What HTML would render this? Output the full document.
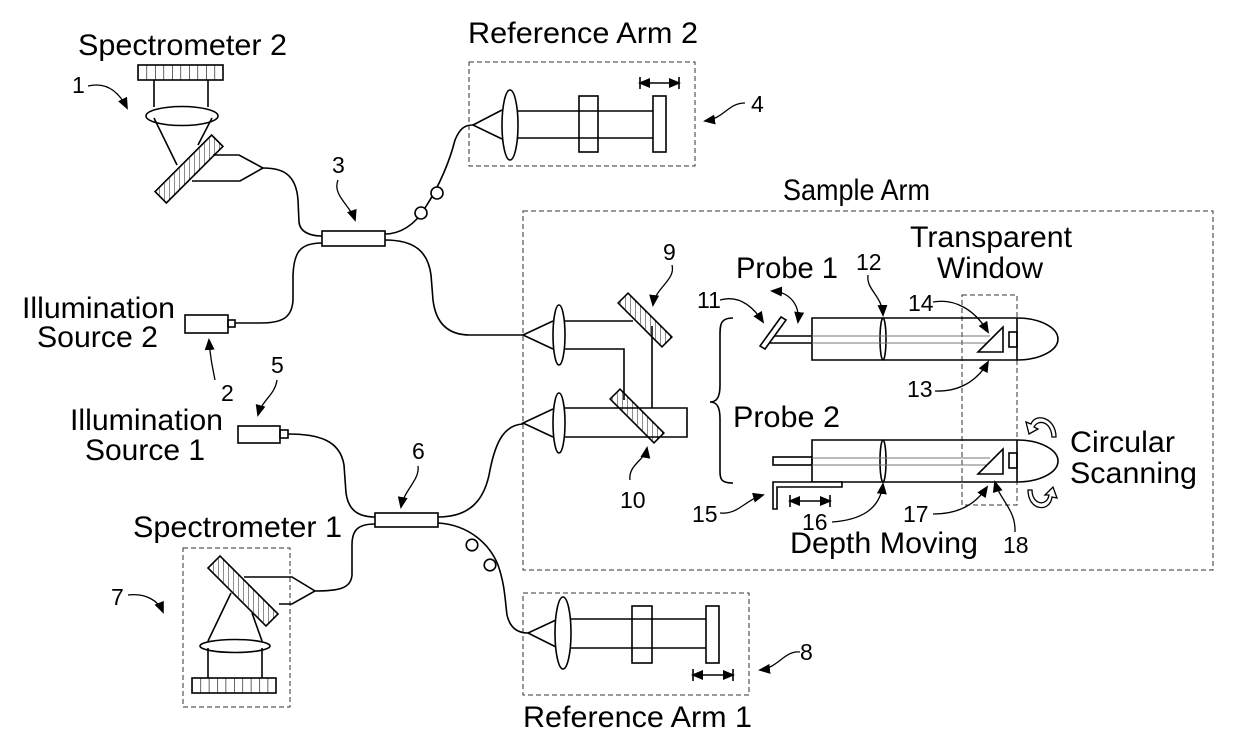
<!DOCTYPE html>
<html><head><meta charset="utf-8"><style>html,body{margin:0;padding:0;background:#fff}svg{display:block}</style></head>
<body>
<svg width="1239" height="751" viewBox="0 0 1239 751" xmlns="http://www.w3.org/2000/svg" font-family="Liberation Sans, Arial, sans-serif" fill="none" stroke="#000" stroke-width="1.6">
<defs>
<marker id="ah" markerWidth="12" markerHeight="10" refX="10" refY="5" orient="auto" markerUnits="userSpaceOnUse"><path d="M0,0 L12,5 L0,10 Z" fill="#000" stroke="none"/></marker>
<marker id="as" markerWidth="12" markerHeight="10" refX="2" refY="5" orient="auto" markerUnits="userSpaceOnUse"><path d="M12,0 L0,5 L12,10 Z" fill="#000" stroke="none"/></marker>
<pattern id="hA" width="5" height="5" patternUnits="userSpaceOnUse" patternTransform="rotate(-45)"><line x1="0" y1="0" x2="0" y2="5" stroke="#000" stroke-width="0.9"/></pattern>
<pattern id="hB" width="5" height="5" patternUnits="userSpaceOnUse" patternTransform="rotate(45)"><line x1="0" y1="0" x2="0" y2="5" stroke="#000" stroke-width="0.9"/></pattern>
<pattern id="gr" x="138" width="8.5" height="20" patternUnits="userSpaceOnUse"><line x1="0" y1="0" x2="0" y2="20" stroke="#000" stroke-width="1.2"/></pattern>
<pattern id="gr1" x="192" width="8.4" height="20" patternUnits="userSpaceOnUse"><line x1="0" y1="0" x2="0" y2="20" stroke="#000" stroke-width="1.2"/></pattern>
</defs>

<g stroke="#333" stroke-width="1" stroke-dasharray="5,3">
<rect x="469" y="62" width="226" height="104"/>
<rect x="523" y="211" width="690" height="359"/>
<rect x="523" y="593" width="226" height="102"/>
<rect x="183" y="548" width="107" height="159"/>
<rect x="962" y="295" width="55" height="210"/>
</g>

<rect x="138" y="65" width="85" height="15" fill="url(#gr)"/>
<line x1="154" y1="80" x2="154" y2="107"/><line x1="208" y1="80" x2="208" y2="107"/>
<ellipse cx="182" cy="116" rx="36" ry="9.5"/>
<line x1="154" y1="118" x2="177" y2="165"/><line x1="212" y1="118" x2="198" y2="145"/>
<path d="M192,181 L240,181 L263,168 L239,155 L213,155"/>
<rect x="-40" y="-8" width="80" height="16" transform="translate(189,169) rotate(-45)" fill="url(#hB)"/>
<path d="M263,168 C280,168 296,172 298,200 L299,222 C300,232 310,236 322,236"/>

<rect x="322" y="231" width="63" height="15"/>
<path d="M322,243 C300,243 294,252 293,275 L293,300 C292,318 282,323 260,323 L235,323"/>
<rect x="185" y="315" width="43" height="18"/><rect x="228" y="320" width="7" height="7"/>
<path d="M385,234 C400,234 415,225 425,208 C440,185 450,160 455,140 C460,128 465,125 473,125"/>
<circle cx="421" cy="213" r="6" fill="#fff"/><circle cx="437" cy="193" r="6" fill="#fff"/>
<path d="M385,240 C415,240 428,252 431,275 L433,300 C436,325 450,335 470,335 L523,335"/>

<path d="M502,110 L473,125 L502,139"/>
<ellipse cx="510" cy="125" rx="8" ry="35"/>
<line x1="518" y1="111" x2="653" y2="111"/><line x1="518" y1="138" x2="653" y2="138"/>
<rect x="579" y="96" width="19" height="56" fill="#fff"/>
<line x1="579" y1="111" x2="598" y2="111"/><line x1="579" y1="138" x2="598" y2="138"/>
<rect x="653" y="96" width="13" height="56"/>
<line x1="640" y1="83" x2="679" y2="83" marker-end="url(#ah)" marker-start="url(#as)"/>
<line x1="640" y1="77" x2="640" y2="89"/><line x1="679" y1="77" x2="679" y2="89"/>

<rect x="238" y="426" width="42" height="17"/><rect x="280" y="430" width="8" height="8"/>
<path d="M288,434 C318,434 340,440 344,465 L346,493 C348,508 356,517 375,517"/>
<rect x="375" y="513" width="63" height="14"/>
<path d="M375,524 C358,524 352,530 352,545 L352,575 C351,588 340,591 315,591"/>

<rect x="192" y="678" width="84" height="15" fill="url(#gr1)"/>
<line x1="208" y1="648" x2="208" y2="678"/><line x1="262" y1="648" x2="262" y2="678"/>
<ellipse cx="235" cy="646" rx="35" ry="6.5"/>
<line x1="231" y1="593" x2="208" y2="641"/><line x1="252" y1="613" x2="262" y2="641"/>
<path d="M244,577 L292,577 L315,591 L292,604 L279,604"/>
<rect x="-41" y="-8.5" width="82" height="17" transform="translate(243,591) rotate(45)" fill="url(#hA)"/>

<path d="M438,517 C470,517 485,500 490,470 C496,440 505,425 523,424"/>
<path d="M438,523 C470,525 490,545 498,565 C505,585 505,600 507,615 C510,628 518,633 528,633"/>
<circle cx="472" cy="545" r="5.8" fill="#fff"/><circle cx="490" cy="565" r="5.8" fill="#fff"/>

<path d="M556,620 L528,633 L556,647"/>
<ellipse cx="563" cy="633" rx="8" ry="36"/>
<line x1="571" y1="619" x2="706" y2="619"/><line x1="571" y1="648" x2="706" y2="648"/>
<rect x="632" y="606" width="20" height="57" fill="#fff"/>
<line x1="632" y1="619" x2="652" y2="619"/><line x1="632" y1="648" x2="652" y2="648"/>
<rect x="706" y="606" width="13" height="57"/>
<line x1="693" y1="675" x2="733" y2="675" marker-end="url(#ah)" marker-start="url(#as)"/>
<line x1="693" y1="669" x2="693" y2="681"/><line x1="733" y1="669" x2="733" y2="681"/>

<path d="M553,321 L523,335 L553,349"/>
<ellipse cx="559" cy="335" rx="6" ry="30"/>
<line x1="565" y1="321" x2="633" y2="321"/>
<path d="M565,349 L624,349 L624,400"/>
<path d="M553,409 L523,423 L553,437"/>
<ellipse cx="559" cy="423" rx="6" ry="30"/>
<path d="M565,408 L687,408 L687,437 L565,437"/>
<line x1="652" y1="326" x2="652" y2="408"/>
<rect x="-31" y="-7" width="62" height="14" transform="translate(645,320) rotate(45)" fill="url(#hA)" stroke="#000"/>
<rect x="-31" y="-7" width="62" height="14" transform="translate(637,416) rotate(45)" fill="url(#hA)"/>
<path d="M733,318 C719,318 720,326 720,340 L720,385 C720,397 717,402 710,402 C717,402 720,407 720,419 L720,465 C720,478 719,483 733,483"/>

<path d="M812,318 L1017,318 A41,21 0 0 1 1017,360 L812,360 Z"/>
<line x1="1017" y1="318" x2="1017" y2="360"/>
<ellipse cx="883" cy="339" rx="3" ry="21"/>
<line x1="770" y1="336" x2="812" y2="336"/><line x1="770" y1="343" x2="812" y2="343"/>
<g stroke="#777" stroke-width="1"><line x1="812" y1="336" x2="990" y2="336"/><line x1="812" y1="343" x2="990" y2="343"/></g>
<polygon points="760,346 765,349 786,320 781,317" fill="#fff"/>
<polygon points="978,352 1003,352 1003,327" fill="#fff"/>
<rect x="1009" y="332" width="8" height="15"/>

<path d="M812,440 L1017,440 A41,21 0 0 1 1017,482 L812,482 Z"/>
<line x1="1017" y1="440" x2="1017" y2="482"/>
<ellipse cx="883" cy="461" rx="3" ry="21"/>
<rect x="773" y="457" width="39" height="8"/>
<g stroke="#777" stroke-width="1"><line x1="812" y1="458" x2="990" y2="458"/><line x1="812" y1="465" x2="990" y2="465"/></g>
<polygon points="978,474 1003,474 1003,449" fill="#fff"/>
<rect x="1009" y="453" width="8" height="15"/>
<polygon points="773,482 842,482 842,487 777,487 777,509 773,509" fill="#fff"/>
<line x1="790" y1="501" x2="830" y2="501" marker-end="url(#ah)" marker-start="url(#as)"/>
<line x1="790" y1="495" x2="790" y2="507"/><line x1="830" y1="495" x2="830" y2="507"/>

<path d="M1056,437 C1056,418 1036,412 1031,424 L1026,422 L1029,434 L1038,429 L1034,427 C1038,419 1051,421 1052,437 Z" fill="#fff" stroke-width="1.3"/>
<path d="M1028,490 C1028,511 1050,513 1052,497 L1057,498 L1053,487 L1045,495 L1049,495 C1047,507 1032,505 1032,490 Z" fill="#fff" stroke-width="1.3"/>

<g stroke-width="1.3">
<path d="M88,86 C105,82 118,90 127,108" marker-end="url(#ah)"/>
<path d="M338,180 C332,195 350,205 355,220" marker-end="url(#ah)"/>
<path d="M745,103 C728,103 725,118 705,121" marker-end="url(#ah)"/>
<path d="M215,380 C212,365 210,355 209,340" marker-end="url(#ah)"/>
<path d="M277,380 C275,395 262,400 258,415" marker-end="url(#ah)"/>
<path d="M418,466 C420,480 404,490 401,507" marker-end="url(#ah)"/>
<path d="M128,595 C145,593 158,600 163,612" marker-end="url(#ah)"/>
<path d="M800,652 C785,650 778,668 760,670" marker-end="url(#ah)"/>
<path d="M672,265 C676,280 655,288 653,305" marker-end="url(#ah)"/>
<path d="M630,480 C628,465 645,460 647,448" marker-end="url(#ah)"/>
<path d="M720,300 C738,295 752,305 763,322" marker-end="url(#ah)"/>
<path d="M868,275 C866,290 882,295 883,315" marker-end="url(#ah)"/>
<path d="M933,302 C955,298 975,310 988,332" marker-end="url(#ah)"/>
<path d="M935,391 C960,392 978,380 988,362" marker-end="url(#ah)"/>
<path d="M720,513 C738,515 745,500 763,495" marker-end="url(#ah)"/>
<path d="M832,522 C860,520 880,510 883,484" marker-end="url(#ah)"/>
<path d="M933,514 C958,514 975,505 987,487" marker-end="url(#ah)"/>
<path d="M1015,532 C1016,510 1000,500 995,482" marker-end="url(#ah)"/>
<path d="M772,291 C790,292 800,305 798,322" marker-end="url(#ah)" marker-start="url(#as)"/>
</g>

<g fill="#000" stroke="none" font-size="30">
<text x="78" y="55" textLength="209" lengthAdjust="spacingAndGlyphs">Spectrometer 2</text>
<text x="468" y="43" textLength="230" lengthAdjust="spacingAndGlyphs">Reference Arm 2</text>
<text x="783" y="200" textLength="147" lengthAdjust="spacingAndGlyphs">Sample Arm</text>
<text x="22" y="318" textLength="153" lengthAdjust="spacingAndGlyphs">Illumination</text>
<text x="37" y="347" textLength="121" lengthAdjust="spacingAndGlyphs">Source 2</text>
<text x="70" y="430" textLength="153" lengthAdjust="spacingAndGlyphs">Illumination</text>
<text x="85" y="460" textLength="120" lengthAdjust="spacingAndGlyphs">Source 1</text>
<text x="133" y="537" textLength="209" lengthAdjust="spacingAndGlyphs">Spectrometer 1</text>
<text x="523" y="727" textLength="229" lengthAdjust="spacingAndGlyphs">Reference Arm 1</text>
<text x="736" y="278" textLength="102" lengthAdjust="spacingAndGlyphs">Probe 1</text>
<text x="733" y="427" textLength="107" lengthAdjust="spacingAndGlyphs">Probe 2</text>
<text x="910" y="247" textLength="162" lengthAdjust="spacingAndGlyphs">Transparent</text>
<text x="937" y="278" textLength="106" lengthAdjust="spacingAndGlyphs">Window</text>
<text x="1070" y="452" textLength="105" lengthAdjust="spacingAndGlyphs">Circular</text>
<text x="1070" y="483" textLength="127" lengthAdjust="spacingAndGlyphs">Scanning</text>
<text x="790" y="553" textLength="188" lengthAdjust="spacingAndGlyphs">Depth Moving</text>
</g>
<g fill="#000" stroke="none" font-size="23">
<text x="72" y="93">1</text>
<text x="332" y="173">3</text>
<text x="751" y="112">4</text>
<text x="221" y="401">2</text>
<text x="271" y="373">5</text>
<text x="412" y="459">6</text>
<text x="111" y="605">7</text>
<text x="800" y="660">8</text>
<text x="663" y="260">9</text>
<text x="620" y="508">10</text>
<text x="697" y="308">11</text>
<text x="856" y="270">12</text>
<text x="907" y="397">13</text>
<text x="908" y="311">14</text>
<text x="692" y="522">15</text>
<text x="802" y="530">16</text>
<text x="903" y="522">17</text>
<text x="1003" y="553">18</text>
</g>
</svg>
</body></html>
